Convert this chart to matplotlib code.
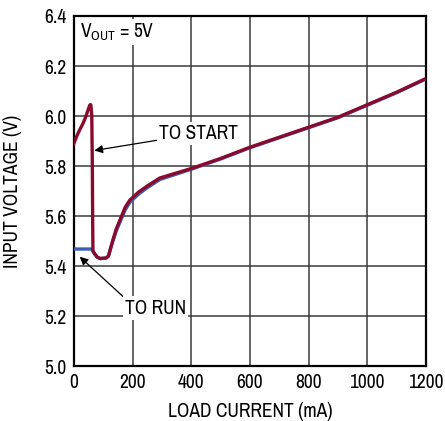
import matplotlib
matplotlib.use("Agg")
import matplotlib.pyplot as plt

plt.rcParams['font.family'] = ['Archivo Narrow', 'Liberation Sans', 'DejaVu Sans']

# data (load current mA, input voltage V)
start_x = [0, 10, 20, 31, 40, 50, 55, 58, 61, 63, 64, 65, 70, 80, 90, 110, 118, 125, 133, 145, 157, 175, 191, 220, 250, 293, 400, 500, 600, 700, 800, 900, 1000, 1100, 1200]
start_y = [5.89, 5.92, 5.945, 5.97, 5.995, 6.03, 6.045, 6.045, 6.0, 5.8, 5.6, 5.46, 5.45, 5.435, 5.43, 5.432, 5.44, 5.47, 5.504, 5.55, 5.584, 5.635, 5.664, 5.695, 5.72, 5.752, 5.79, 5.83, 5.875, 5.915, 5.955, 5.995, 6.045, 6.095, 6.15]
run_x = [0, 20, 40, 61, 70, 80, 90, 110, 118, 125, 133, 145, 157, 175, 191, 220, 250, 293, 400, 500, 600, 700, 800, 900, 1000, 1100, 1200]
run_y = [5.468, 5.468, 5.468, 5.468, 5.45, 5.435, 5.43, 5.432, 5.44, 5.47, 5.50, 5.542, 5.575, 5.625, 5.655, 5.687, 5.713, 5.746, 5.787, 5.828, 5.873, 5.913, 5.953, 5.993, 6.043, 6.093, 6.148]

xticks = [0, 200, 400, 600, 800, 1000, 1200]
yticks = [5.0, 5.2, 5.4, 5.6, 5.8, 6.0, 6.2, 6.4]

fig = plt.figure(figsize=(4.45, 4.21), dpi=100)
ax = fig.add_axes([0.166, 0.1306, 0.791, 0.8314])
ax.set_xlim(0, 1200)
ax.set_ylim(5.0, 6.4)
ax.set_xticks(xticks)
ax.set_yticks(yticks)
ax.set_xticklabels([str(t) for t in xticks])
ax.set_yticklabels([f"{t:.1f}" for t in yticks])
ax.grid(True, color='#3a3a3a', linewidth=1.1)
ax.set_axisbelow(True)
for s in ax.spines.values():
    s.set_linewidth(1.6)
    s.set_color('black')
ax.tick_params(length=0, labelsize=14, pad=5)

ax.plot(run_x, run_y, color='#3a5fb0', linewidth=2.4, solid_capstyle='butt', zorder=3)
ax.plot(start_x, start_y, color='#8a0a2e', linewidth=2.4, solid_joinstyle='round', zorder=4)

ax.set_xlabel('LOAD CURRENT (mA)', fontsize=14)
ax.set_ylabel('INPUT VOLTAGE (V)', fontsize=14)
ax.xaxis.set_label_coords(0.5, -0.103)
ax.yaxis.set_label_coords(-0.148, 0.5)

ax.text(20, 6.335, r'V$_{\mathregular{OUT}}$ = 5V', fontsize=14, ha='left', va='center',
        bbox=dict(facecolor='white', edgecolor='none', pad=1.5), zorder=5)

ax.annotate('TO START', xy=(70, 5.862), xytext=(290, 5.93), fontsize=14, ha='left', va='center',
            bbox=dict(facecolor='white', edgecolor='none', pad=1.5),
            arrowprops=dict(arrowstyle='-|>', color='black', lw=0.9, mutation_scale=12, shrinkA=0, shrinkB=0), zorder=5)
ax.annotate('TO RUN', xy=(20, 5.437), xytext=(175, 5.232), fontsize=14, ha='left', va='center',
            bbox=dict(facecolor='white', edgecolor='none', pad=1.5),
            arrowprops=dict(arrowstyle='-|>', color='black', lw=0.9, mutation_scale=12, shrinkA=0, shrinkB=0,
                            relpos=(0.0, 1.0)), zorder=5)

fig.savefig('out.png', dpi=100)
